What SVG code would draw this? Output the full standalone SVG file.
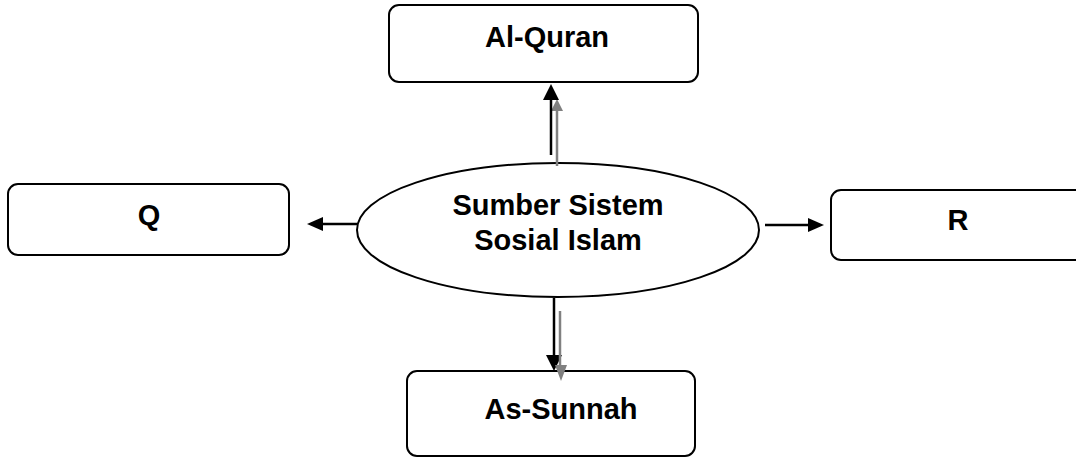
<svg xmlns="http://www.w3.org/2000/svg" width="1076" height="457" viewBox="0 0 1076 457">
<style>
.box{fill:#fff;stroke:#000;stroke-width:2}
.lbl{font-family:"Liberation Sans",Arial,sans-serif;font-weight:bold;font-size:29px;fill:#000}
.blk{stroke:#000;stroke-width:2.5;fill:none}
.gry{stroke:#808080;stroke-width:2.5;fill:none}
</style>
<rect width="1076" height="457" fill="#fff"/>
<g id="alquran">
  <rect class="box" x="389" y="5" width="309" height="77" rx="10"/>
  <text class="lbl" x="547" y="47" text-anchor="middle">Al-Quran</text>
</g>
<g id="q">
  <rect class="box" x="8" y="184" width="281" height="71" rx="10"/>
  <text class="lbl" x="149" y="225" text-anchor="middle">Q</text>
</g>
<g id="r">
  <rect class="box" x="831" y="190" width="260" height="70" rx="10"/>
  <text class="lbl" x="958" y="230" text-anchor="middle">R</text>
</g>
<g id="assunnah">
  <rect class="box" x="407" y="371" width="288" height="85" rx="10"/>
  <text class="lbl" x="561" y="419" text-anchor="middle">As-Sunnah</text>
</g>
<g id="center">
  <ellipse class="box" cx="558" cy="230" rx="201" ry="67"/>
  <text class="lbl" x="558" y="215" text-anchor="middle">Sumber Sistem</text>
  <text class="lbl" x="558" y="250" text-anchor="middle">Sosial Islam</text>
</g>
<g id="connectors">
  <line class="gry" x1="557" y1="166" x2="557" y2="110"/>
  <polygon points="557,99 551,111 563,111" fill="#808080"/>
  <line class="blk" x1="551" y1="155" x2="551" y2="99"/>
  <polygon points="551,84 543,100 559,100" fill="#000"/>
  <line class="blk" x1="554" y1="298" x2="554" y2="356"/>
  <polygon points="554,371 546,355 562,355" fill="#000"/>
  <line class="gry" x1="560" y1="311" x2="560" y2="366"/>
  <polygon points="561,381 555,365 567,365" fill="#808080"/>
  <line class="blk" x1="357" y1="224" x2="321" y2="224"/>
  <polygon points="307,224 323,217 323,231" fill="#000"/>
  <line class="blk" x1="765" y1="225" x2="809" y2="225"/>
  <polygon points="824,225 808,218 808,232" fill="#000"/>
</g>
</svg>
